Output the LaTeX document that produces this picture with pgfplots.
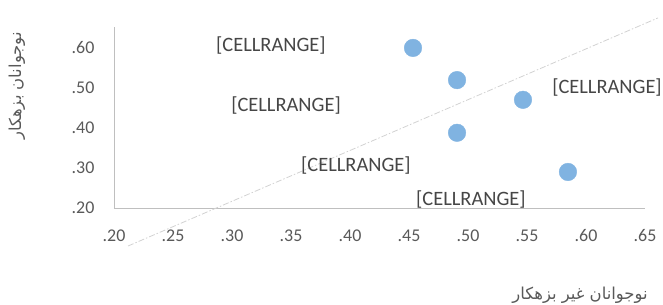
\documentclass[border=0pt]{standalone}
\usepackage{fontspec}
\setmainfont{Carlito}
\usepackage{pgfplots}
\pgfplotsset{compat=1.18}
\TeXXeTstate=1
\newfontfamily\arabicfont[Script=Arabic]{DejaVu Sans}
\definecolor{ptblue}{RGB}{128,179,225}
\definecolor{tickgray}{RGB}{89,89,89}
\definecolor{axgray}{RGB}{191,191,191}
\definecolor{dashgray}{RGB}{210,210,210}
\definecolor{labgray}{RGB}{70,70,70}
\begin{document}
\begin{tikzpicture}
\begin{axis}[
  scale only axis, width=531bp, height=181bp,
  xmin=0.2, xmax=0.65, ymin=0.2, ymax=0.65,
  axis lines=left, axis line style={-, draw=axgray, line width=0.8bp},
  clip=false,
  major tick length=0,
  xtick={0.2,0.25,0.3,0.35,0.4,0.45,0.5,0.55,0.6,0.65},
  xticklabels={.20,.25,.30,.35,.40,.45,.50,.55,.60,.65},
  ytick={0.2,0.3,0.4,0.5,0.6},
  yticklabels={.20,.30,.40,.50,.60},
  tick label style={font=\fontsize{18}{18}\selectfont, text=tickgray},
  xticklabel style={anchor=center, yshift=-28bp},
  yticklabel style={anchor=center, xshift=-31bp},
  xlabel={\arabicfont\beginR نوجوانان غیر بزهکار\endR},
  ylabel={\arabicfont\beginR نوجوانان بزهکار\endR},
  xlabel style={at={(axis description cs:0.8776,-0.4807)}, anchor=center, font=\fontsize{16.5}{16.5}\selectfont, text=tickgray},
  ylabel style={at={(axis description cs:-0.1827,0.674)}, anchor=center, rotate=0, font=\fontsize{16.5}{16.5}\selectfont, text=tickgray},
]
\addplot[draw=dashgray, line width=0.8bp, dash pattern=on 6bp off 2bp on 1.5bp off 2bp, forget plot]
  coordinates {(0.2119,0.1055) (0.661,0.6726)};
\addplot[only marks, mark=*, mark size=8.8bp, mark options={fill=ptblue, draw=ptblue}]
  coordinates {
    (0.4534,0.598)
    (0.4907,0.518)
    (0.5466,0.469)
    (0.4907,0.387)
    (0.5847,0.2896)
  };
\node[font=\fontsize{20.5}{20.5}\selectfont, text=labgray] at (axis cs:0.333,0.605) {[CELLRANGE]};
\node[font=\fontsize{20.5}{20.5}\selectfont, text=labgray] at (axis cs:0.3458,0.4537) {[CELLRANGE]};
\node[font=\fontsize{20.5}{20.5}\selectfont, text=labgray] at (axis cs:0.6178,0.4985) {[CELLRANGE]};
\node[font=\fontsize{20.5}{20.5}\selectfont, text=labgray] at (axis cs:0.405,0.3045) {[CELLRANGE]};
\node[font=\fontsize{20.5}{20.5}\selectfont, text=labgray] at (axis cs:0.5025,0.22) {[CELLRANGE]};
\end{axis}
\pgfresetboundingbox
\path[use as bounding box] (-114bp,-97bp) rectangle (549bp,208bp);
\end{tikzpicture}
\end{document}
